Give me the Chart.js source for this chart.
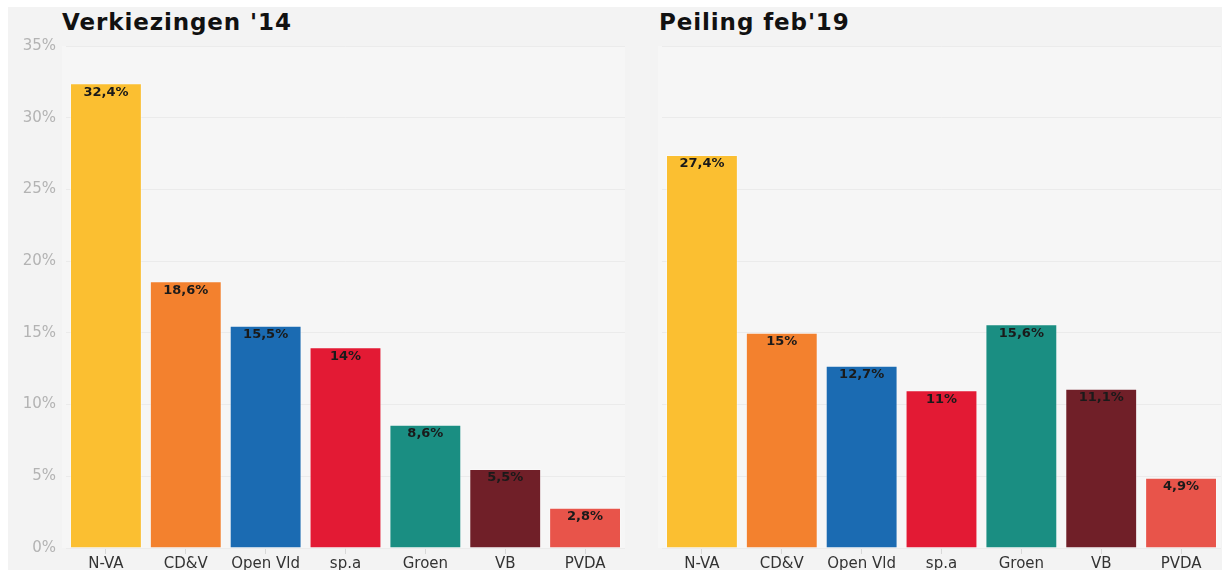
<!DOCTYPE html>
<html><head><meta charset="utf-8">
<script src="https://cdn.jsdelivr.net/npm/chart.js@4/dist/chart.umd.min.js"></script>
<style>
html,body{margin:0;padding:0;background:#fff;width:1222px;height:570px;overflow:hidden;font-family:"DejaVu Sans",sans-serif;}
#bg{position:absolute;left:8px;top:7px;width:1214px;height:563px;background:#f3f3f3;}
.t{position:absolute;top:7px;font-family:"DejaVu Sans",sans-serif;font-weight:bold;font-size:23px;letter-spacing:0.9px;color:#111;line-height:30px;}
.c{position:absolute;top:0;height:570px;}
</style></head><body>
<div id="bg"></div>
<div class="t" style="left:62px">Verkiezingen '14</div>
<div class="t" style="left:659px">Peiling feb'19</div>
<div class="c" style="left:0;width:632px"><canvas id="c1"></canvas></div>
<div class="c" style="left:632px;width:590px"><canvas id="c2"></canvas></div>
<script>
const parties = ["N-VA","CD&V","Open Vld","sp.a","Groen","VB","PVDA"];
const votes2014 = [32.4,18.6,15.5,14,8.6,5.5,2.8];
const poll2019 = [27.4,15,12.7,11,15.6,11.1,4.9];
const yTicks = [0,5,10,15,20,25,30,35];
const partyColors = ["#fbbf31","#f3812e","#1b6bb2","#e31a34","#1a8e82","#701f28","#e8544a"];

const fmt = v => String(v).replace('.', ',');
const FONT = '"DejaVu Sans", sans-serif';

const plotBg = {
  id:'plotBg',
  beforeDraw(chart){
    const {ctx, chartArea:a} = chart;
    ctx.save(); ctx.fillStyle='#f6f6f6';
    ctx.fillRect(a.left-4, a.top, a.right-a.left+4, a.bottom-a.top);
    ctx.restore();
  }
};
const valueLabels = {
  id:'valueLabels',
  afterDatasetsDraw(chart){
    const ctx = chart.ctx;
    const meta = chart.getDatasetMeta(0);
    const data = chart.data.datasets[0].data;
    ctx.save();
    ctx.font = 'bold 13px ' + FONT;
    ctx.fillStyle = '#1a1a1a';
    ctx.textAlign='center'; ctx.textBaseline='middle';
    meta.data.forEach((el,i)=>{
      ctx.fillText(fmt(data[i])+'%', el.x, el.y+9);
    });
    ctx.restore();
  }
};

function make(id, values, showY, pad){
  return new Chart(document.getElementById(id), {
    type:'bar',
    data:{labels:parties, datasets:[{data:values, backgroundColor:partyColors,
      borderColor:'rgba(255,255,255,0.35)', borderWidth:1,
      barPercentage:0.9, categoryPercentage:1}]},
    options:{
      responsive:true, maintainAspectRatio:false, animation:false,
      devicePixelRatio:1,
      layout:{padding:pad},
      plugins:{legend:{display:false}, tooltip:{enabled:false}},
      scales:{
        x:{
          grid:{display:true, offset:false, drawOnChartArea:false, drawTicks:true, tickLength:6, color:'#d8d8d8'},
          border:{display:false},
          ticks:{color:'#333', font:{size:15, family:FONT}, padding:1, maxRotation:0, autoSkip:false},
          afterFit(s){ s.height = 22; }
        },
        y:{
          min:0, max:35,
          afterBuildTicks(s){ s.ticks = yTicks.map(v=>({value:v})); },
          grid:{color:'#ebebeb', drawTicks:false},
          border:{display:false},
          ticks:{display:showY, color:'#b3b3b3', padding:10, font:{size:15, family:FONT},
            callback:v=>v+'%'},
          afterFit(s){ if(showY) s.width = 66; }
        }
      }
    },
    plugins:[plotBg, valueLabels]
  });
}
make('c1', votes2014, true, {top:46, right:7, left:0, bottom:0});
make('c2', poll2019, false, {top:46, right:1, left:30, bottom:0});
</script>
</body></html>
